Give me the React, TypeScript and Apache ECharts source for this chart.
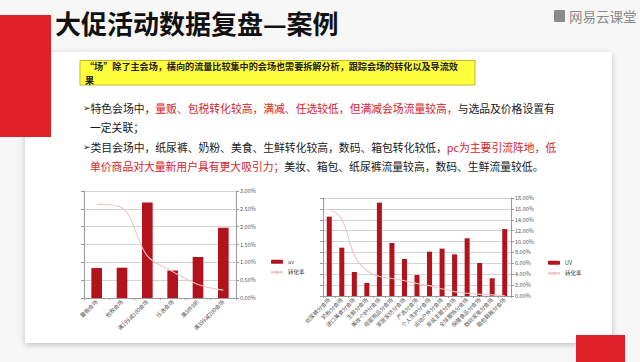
import React, { useEffect, useRef } from 'react';
import * as echarts from 'echarts';

const leftCategories = ['量贩会场', '包税会场', '满199减100会场', '任选会场', '满3件9折', '满399减200会场'];
const leftUV = [8.4, 8.5, 26.8, 7.7, 11.5, 19.7];
const leftRate = [2.63, 2.53, 1.18, 0.74, 0.38, 0.22];

const rightCategories = [
  '纸尿裤分会场', '奶粉分会场', '进口美食分会场', '生鲜分会场', '美妆个护分会场',
  '母婴用品分会场', '家居家纺分会场', '严选分会场', '个人洗护分会场', '运动户外分会场',
  '家装主题分会场', '全球服饰分会场', '保健食品分会场', '数码家电分会场', '箱包鞋靴分会场',
];
const rightUV = [14.57, 8.88, 4.41, 2.39, 17.15, 9.74, 6.8, 3.86, 8.14, 8.7, 7.65, 10.6, 6.06, 3.25, 12.3];
const rightRate = [16.0, 14.1, 7.5, 4.65, 3.6, 3.2, 2.8, 2.3, 1.9, 1.3, 0.8, 0.5, 0.3, 0.2, 0.1];

const BAR = '#b3131c';
const LINE = '#ecc6c6';
const RED = '#d8232a';
const FONT = '"Noto Sans CJK SC", "Noto Sans", sans-serif';

export default function App() {
  const ref = useRef<HTMLDivElement>(null);
  useEffect(() => {
    const chart = echarts.init(ref.current!, null, { renderer: 'svg' });
    const axisCommonX = (data: string[]) => ({
      type: 'category',
      data,
      axisLine: { lineStyle: { color: '#9a9a9a', width: 1 } },
      axisTick: { show: true, length: 2, lineStyle: { color: '#9a9a9a' } },
      axisLabel: { rotate: 45, fontSize: 5.5, color: '#555', margin: 3, interval: 0, fontFamily: FONT },
    });
    const leftY = (gridIndex: number, max: number, interval: number) => ({
      type: 'value', gridIndex, min: 0, max, interval,
      axisLine: { show: true, lineStyle: { color: '#9a9a9a' } },
      axisTick: { show: true, length: 3, lineStyle: { color: '#9a9a9a' } },
      axisLabel: { show: false },
      splitLine: { show: true, lineStyle: { color: '#d4d4d4', width: 1 } },
    });
    const rightY = (gridIndex: number, max: number, interval: number) => ({
      type: 'value', gridIndex, min: 0, max, interval, position: 'right',
      axisLine: { show: true, lineStyle: { color: '#9a9a9a' } },
      axisTick: { show: true, length: 3, lineStyle: { color: '#9a9a9a' } },
      axisLabel: { fontSize: 5.5, color: '#555', margin: 4, fontFamily: FONT, formatter: (v: number) => v.toFixed(2) + '%' },
      splitLine: { show: false },
    });
    const bulletRich = {
      k: { fontSize: 10.8, fill: '#1a1a1a', fontFamily: FONT },
      r: { fontSize: 10.8, fill: RED, fontFamily: FONT },
      a: { fontSize: 9, fill: '#1a1a1a', fontFamily: 'DejaVu Sans' },
    };
    const option: any = {
      animation: false,
      backgroundColor: 'transparent',
      textStyle: { fontFamily: FONT },
      grid: [
        { left: 84, top: 191, width: 152, height: 107 },
        { left: 323, top: 198, width: 188, height: 98 },
      ],
      xAxis: [
        { ...axisCommonX(leftCategories), gridIndex: 0 },
        { ...axisCommonX(rightCategories), gridIndex: 1 },
      ],
      yAxis: [
        leftY(0, 30, 5),
        rightY(0, 3, 0.5),
        leftY(1, 18, 2),
        rightY(1, 18, 2),
      ],
      legend: [
        {
          data: ['uv', '转化率'], orient: 'vertical', left: 265, top: 254,
          itemWidth: 12, itemHeight: 4, itemGap: 5,
          textStyle: { fontSize: 5.5, color: '#444', fontFamily: FONT },
        },
        {
          data: ['UV', '转化率 '], orient: 'vertical', left: 542, top: 255,
          itemWidth: 12, itemHeight: 4, itemGap: 5,
          textStyle: { fontSize: 5.5, color: '#444', fontFamily: FONT },
        },
      ],
      series: [
        { name: 'uv', type: 'bar', xAxisIndex: 0, yAxisIndex: 0, data: leftUV, barWidth: '42%', itemStyle: { color: BAR } },
        { name: '转化率', type: 'line', xAxisIndex: 0, yAxisIndex: 1, data: leftRate, smooth: 0.35, symbol: 'none', lineStyle: { color: LINE, width: 1.1 }, itemStyle: { color: LINE }, z: 3 },
        { name: 'UV', type: 'bar', xAxisIndex: 1, yAxisIndex: 2, data: rightUV, barWidth: '40%', itemStyle: { color: BAR } },
        { name: '转化率 ', type: 'line', xAxisIndex: 1, yAxisIndex: 3, data: rightRate, smooth: 0.35, symbol: 'none', lineStyle: { color: LINE, width: 1.1 }, itemStyle: { color: LINE }, z: 3 },
      ],
      graphic: [
        { type: 'rect', shape: { x: 0, y: 15, width: 51, height: 122 }, style: { fill: '#df2129' }, z: 10 },
        { type: 'rect', shape: { x: 576, y: 335, width: 49, height: 27 }, style: { fill: '#df2129' }, z: 10 },
        { type: 'text', x: 55, y: 22, style: { text: '大促活动数据复盘—案例', fontSize: 26, fontWeight: 'bold', fill: '#111', fontFamily: FONT, verticalAlign: 'middle' }, z: 10 },
        { type: 'rect', shape: { x: 554, y: 10, width: 11, height: 12, r: 1 }, style: { fill: '#8a8a8a' }, z: 10 },
        { type: 'text', x: 569, y: 16, style: { text: '网易云课堂', fontSize: 13.5, fill: '#8a8a8a', fontFamily: FONT, verticalAlign: 'middle' }, z: 10 },
        { type: 'rect', shape: { x: 80, y: 60.5, width: 395, height: 24.5 }, style: { fill: '#ffff3c', stroke: '#c9b52a', lineWidth: 1 }, z: 10 },
        { type: 'text', x: 85, y: 66.2, style: { text: '“场”除了主会场，横向的流量比较集中的会场也需要拆解分析，跟踪会场的转化以及导流效', fontSize: 9.1, fontWeight: 'bold', fill: '#222', fontFamily: FONT, verticalAlign: 'middle' }, z: 11 },
        { type: 'text', x: 85, y: 79.6, style: { text: '果', fontSize: 9.1, fontWeight: 'bold', fill: '#222', fontFamily: FONT, verticalAlign: 'middle' }, z: 11 },
        {
          type: 'text', x: 83, y: 108, z: 10,
          style: {
            text: '{a|➢}{k|特色会场中，}{r|量贩、包税转化较高，满减、任选较低，但满减会场流量较高，}{k|与选品及价格设置有}',
            rich: bulletRich, verticalAlign: 'middle',
          },
        },
        { type: 'text', x: 90, y: 127, z: 10, style: { text: '{k|一定关联；}', rich: bulletRich, verticalAlign: 'middle' } },
        {
          type: 'text', x: 83, y: 147, z: 10,
          style: {
            text: '{a|➢}{k|类目会场中，纸尿裤、奶粉、美食、生鲜转化较高，数码、箱包转化较低，}{r|pc为主要引流阵地，低}',
            rich: bulletRich, verticalAlign: 'middle',
          },
        },
        {
          type: 'text', x: 90, y: 166, z: 10,
          style: {
            text: '{r|单价商品对大量新用户具有更大吸引力；}{k|美妆、箱包、纸尿裤流量较高，数码、生鲜流量较低。}',
            rich: bulletRich, verticalAlign: 'middle',
          },
        },
      ],
    };
    chart.setOption(option);
    return () => chart.dispose();
  }, []);
  return (
    <div style={{ position: 'fixed', left: 0, top: 0, width: 640, height: 362, background: '#f7f7f7', overflow: 'hidden' }}>
      <div style={{ position: 'absolute', left: 25, top: 52, width: 587, height: 291, background: '#fff', boxShadow: '0 2px 6px rgba(0,0,0,0.22)' }} />
      <div ref={ref} style={{ position: 'absolute', left: 0, top: 0, width: 640, height: 362 }} />
    </div>
  );
}
